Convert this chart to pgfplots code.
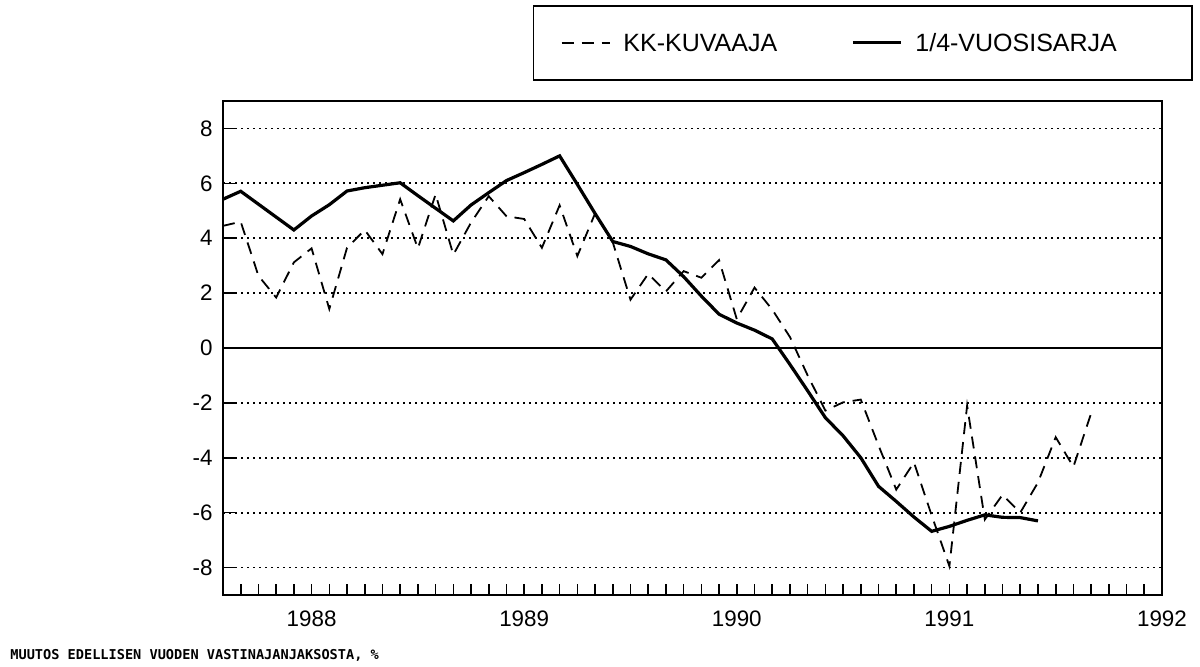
\documentclass[border=0pt]{standalone}
\usepackage{pgfplots}
\pgfplotsset{compat=1.18}
\usepackage{fontspec}
\setmainfont{Liberation Sans}
\newfontfamily\capfont{DejaVu Sans Mono}

\begin{document}
\begin{tikzpicture}
\path[use as bounding box] (0,0) rectangle (600bp,333.5bp);
\begin{axis}[
  at={(111.5bp,36bp)}, anchor=south west,
  scale only axis, width=469.5bp, height=247bp,
  xmin=-5, xmax=48, ymin=-9, ymax=9,
  axis line style={line width=1bp},
  xtick={0,12,24,36,48}, xticklabels={1988,1989,1990,1991,1992},
  major x tick style={draw=none},
  minor xtick={-4,-3,...,47},
  minor x tick style={line width=0.8bp, black},
  minor tick length=5.5bp,
  ytick={-8,-6,...,8},
  major tick length=6bp,
  major y tick style={line width=0.8bp, black},
  tick align=inside,
  xtick pos=bottom, ytick pos=left,
  ymajorgrids,
  major grid style={black, line width=0.85bp, dash pattern=on 0.85bp off 2.15bp},
  extra y ticks={0}, extra y tick labels={},
  extra y tick style={major grid style={solid, black, line width=0.8bp}},
  tick label style={font=\fontsize{11.2bp}{13bp}\selectfont},
  /pgf/number format/assume math mode=true,
  xticklabel style={yshift=-4.5bp},
  yticklabel style={xshift=-1.7bp},
  legend style={at={(0.330,1.194)}, anchor=north west, draw=black, line width=0.8bp,
    inner xsep=13.5bp, inner ysep=14bp,
    font=\fontsize{12.5bp}{14bp}\selectfont, legend columns=2,
    /tikz/every even column/.append style={column sep=37bp},
    /tikz/every odd column/.append style={column sep=6.5bp},
    nodes={inner sep=0pt, text height=8.9bp, text depth=0pt}},
  legend image code/.code={\draw[#1] (0bp,0bp) -- (24bp,0bp);},
]
\addplot[black, line width=0.9bp, dash pattern=on 6bp off 4bp] coordinates {
(-5,4.45) (-4,4.6) (-3,2.63) (-2,1.84) (-1,3.12) (0,3.63) (1,1.42) (2,3.65)
(3,4.3) (4,3.42) (5,5.42) (6,3.63) (7,5.6) (8,3.4) (9,4.57) (10,5.53)
(11,4.8) (12,4.7) (13,3.65) (14,5.2) (15,3.35) (16,4.9) (17,3.85) (18,1.76)
(19,2.7) (20,2.06) (21,2.8) (22,2.56) (23,3.2) (24,1.05) (25,2.2) (26,1.4)
(27,0.4) (28,-1.0) (29,-2.28) (30,-1.98) (31,-1.88) (32,-3.55) (33,-5.16) (34,-4.17)
(35,-6.1) (36,-7.95) (37,-2.1) (38,-6.25) (39,-5.35) (40,-6.0) (41,-4.9) (42,-3.25)
(43,-4.33) (44,-2.38)
};
\addlegendentry{KK-KUVAAJA}
\addplot[black, line width=1.6bp] coordinates {
(-5,5.42) (-4,5.71) (-3,5.24) (-2,4.77) (-1,4.3) (0,4.81) (1,5.22) (2,5.72)
(3,5.84) (4,5.93) (5,6.02) (6,5.55) (7,5.09) (8,4.63) (9,5.21) (10,5.66)
(11,6.1) (12,6.39) (13,6.69) (14,7.0) (15,5.96) (16,4.9) (17,3.88) (18,3.7)
(19,3.43) (20,3.21) (21,2.6) (22,1.89) (23,1.23) (24,0.91) (25,0.65) (26,0.33)
(27,-0.6) (28,-1.56) (29,-2.54) (30,-3.2) (31,-4.0) (32,-5.04) (33,-5.59) (34,-6.16)
(35,-6.68) (36,-6.5) (37,-6.28) (38,-6.08) (39,-6.17) (40,-6.18) (41,-6.3)
};
\addlegendentry{1/4-VUOSISARJA\hspace*{24bp}}
\end{axis}
\node[anchor=base west, inner sep=0pt, font=\capfont\bfseries\fontsize{6.8bp}{8bp}\selectfont] at (5bp,4bp) {MUUTOS EDELLISEN VUODEN VASTINAJANJAKSOSTA, \%};
\end{tikzpicture}
\end{document}
